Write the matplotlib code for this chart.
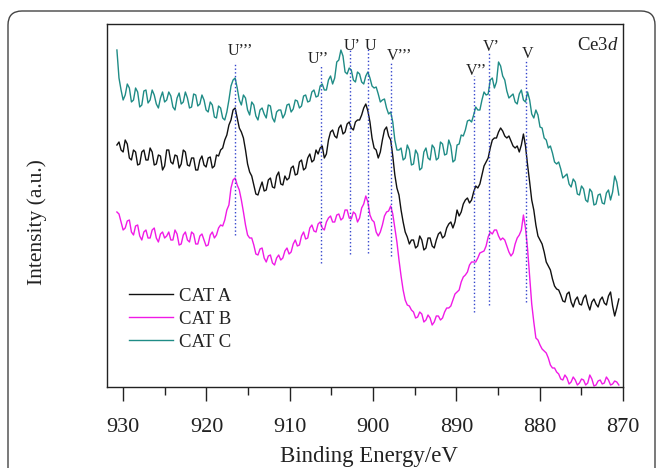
import numpy as np
import matplotlib
matplotlib.use("Agg")
import matplotlib.pyplot as plt
from matplotlib.patches import FancyBboxPatch
from matplotlib.ticker import MultipleLocator
from matplotlib.transforms import IdentityTransform

plt.rcParams["font.family"] = ["Liberation Serif", "DejaVu Serif"]
plt.rcParams["mathtext.fontset"] = "custom"
plt.rcParams["mathtext.rm"] = "Liberation Serif"
plt.rcParams["mathtext.it"] = "Liberation Serif:italic"

# ── data (binding energy grid, intensity a.u.) ──
energy = np.linspace(930.75, 870.5, 243)

cat_a = [
    255, 258, 250, 248, 260, 256, 242, 240, 250, 248, 235, 236, 248, 250, 240, 240, 252, 248, 235, 236,
    245, 244, 230, 234, 250, 250, 238, 236, 245, 244, 232, 236, 250, 248, 235, 234, 242, 242, 230, 230,
    240, 244, 235, 233, 242, 243, 232, 234, 245, 244, 250, 252, 260, 265, 275, 280, 290, 292, 282, 272,
    268, 262, 250, 236, 228, 224, 215, 206, 205, 212, 218, 209, 210, 220, 222, 213, 212, 224, 228, 216,
    215, 224, 220, 222, 232, 234, 225, 226, 238, 240, 230, 232, 242, 246, 238, 240, 250, 246, 252, 254,
    242, 246, 260, 268, 270, 264, 262, 272, 275, 266, 268, 276, 278, 272, 270, 278, 280, 280, 285, 292,
    296, 289, 278, 262, 252, 250, 242, 248, 260, 270, 273, 264, 260, 244, 225, 212, 205, 190, 178, 168,
    163, 156, 160, 160, 152, 154, 164, 160, 150, 152, 162, 162, 154, 152, 160, 166, 168, 162, 164, 172,
    176, 178, 172, 178, 190, 184, 188, 196, 200, 202, 197, 200, 208, 214, 212, 216, 225, 234, 238, 242,
    252, 260, 262, 262, 268, 272, 269, 264, 262, 264, 259, 254, 252, 254, 248, 255, 266, 254, 235, 218,
    200, 190, 175, 164, 160, 156, 148, 138, 134, 130, 121, 114, 111, 110, 105, 99, 98, 106, 108, 98,
    93, 100, 103, 96, 95, 102, 105, 96, 90, 98, 101, 96, 93, 100, 103, 97, 95, 104, 108, 94,
    84, 92, 101,
]

cat_b = [
    188, 186, 178, 170, 172, 179, 180, 168, 165, 174, 175, 164, 160, 168, 170, 162, 162, 170, 172, 162,
    158, 166, 168, 162, 164, 168, 160, 160, 170, 166, 155, 156, 165, 168, 160, 158, 168, 166, 156, 156,
    164, 166, 160, 154, 155, 165, 168, 162, 165, 172, 175, 174, 180, 190, 195, 212, 220, 222, 215, 210,
    200, 188, 175, 165, 162, 162, 155, 146, 145, 151, 152, 142, 138, 144, 145, 137, 135, 142, 145, 140,
    142, 149, 152, 146, 148, 156, 160, 154, 155, 164, 168, 161, 162, 172, 175, 169, 168, 176, 178, 172,
    170, 178, 182, 184, 178, 178, 185, 186, 180, 182, 190, 190, 182, 181, 188, 186, 178, 182, 192, 196,
    204, 198, 185, 180, 178, 168, 164, 168, 175, 184, 188, 189, 194, 186, 172, 158, 140, 124, 110, 100,
    95, 94, 90, 88, 82, 83, 88, 86, 78, 80, 85, 82, 75, 78, 84, 84, 80, 82, 88, 92,
    92, 94, 100, 106, 108, 110, 118, 123, 125, 128, 135, 138, 138, 138, 142, 147, 148, 149, 154, 163,
    168, 166, 170, 170, 164, 160, 162, 160, 154, 148, 144, 147, 156, 162, 165, 170, 185, 172, 151, 124,
    96, 78, 62, 60, 55, 51, 49, 47, 42, 35, 32, 32, 28, 26, 21, 20, 25, 22, 16, 18,
    23, 20, 15, 17, 21, 20, 15, 17, 25, 21, 14, 15, 19, 20, 16, 17, 23, 20, 15, 16,
    19, 18, 15,
]

cat_c = [
    350, 322, 310, 300, 305, 316, 312, 298, 300, 312, 308, 293, 295, 309, 310, 297, 300, 310, 305, 296,
    292, 302, 308, 298, 300, 308, 304, 293, 290, 302, 307, 296, 298, 308, 302, 292, 293, 306, 305, 294,
    296, 305, 300, 290, 288, 298, 295, 283, 282, 294, 292, 282, 280, 288, 300, 314, 320, 322, 312, 300,
    295, 305, 302, 290, 285, 298, 295, 284, 280, 290, 292, 286, 282, 295, 294, 282, 278, 288, 290, 290,
    282, 286, 295, 296, 288, 291, 300, 299, 292, 294, 304, 305, 298, 299, 308, 310, 303, 304, 314, 316,
    310, 310, 320, 324, 316, 322, 338, 340, 350, 344, 328, 326, 332, 330, 320, 318, 328, 326, 318, 316,
    324, 328, 322, 314, 312, 313, 306, 298, 300, 301, 292, 286, 288, 278, 260, 250, 250, 252, 240, 242,
    255, 250, 235, 236, 250, 246, 230, 232, 248, 252, 242, 240, 255, 252, 240, 242, 258, 256, 245, 246,
    260, 254, 238, 240, 255, 256, 265, 264, 270, 279, 280, 278, 285, 293, 290, 290, 300, 308, 305, 306,
    320, 322, 312, 318, 338, 334, 324, 320, 309, 302, 304, 306, 298, 296, 306, 310, 300, 298, 308, 300,
    286, 282, 290, 285, 273, 272, 262, 260, 252, 254, 247, 238, 236, 238, 231, 222, 224, 226, 216, 213,
    221, 218, 206, 205, 214, 211, 200, 198, 211, 208, 195, 196, 205, 206, 197, 196, 207, 210, 200, 208,
    224, 218, 205,
]

series_names = ["CAT A", "CAT B", "CAT C"]
series_colors = ["#111111", "#f01ae6", "#1f8c86"]

# peak assignments (binding energy, eV) and extent of the dotted markers
peak_names = ["U\u2019\u2019\u2019", "U\u2019\u2019", "U\u2019", "U",
              "V\u2019\u2019\u2019", "V\u2019\u2019", "V\u2019", "V"]
peak_pos = [916.6, 906.2, 902.8, 900.6, 897.9, 887.9, 886.1, 881.7]
peak_top = [338, 334, 352, 352, 337, 324, 348, 341]
peak_bottom = [165, 137, 146, 147, 144, 88, 95, 98]
# label anchors (left edge, baseline)
label_x = [917.5, 907.8, 903.5, 901.0, 898.4, 888.9, 886.8, 882.2]
label_y = [345, 337, 350, 350, 340, 325, 349, 342]

fig = plt.figure(figsize=(6.63, 4.68), dpi=100)
ax = fig.add_axes([106.5 / 663, 81 / 468, 516.5 / 663, 363 / 468])

for vals, name, col in zip([cat_a, cat_b, cat_c], series_names, series_colors):
    ax.plot(energy, vals, color=col, lw=1.0, label=name)

ax.vlines(peak_pos, peak_bottom, peak_top, colors="#3344cc", linestyles=":", lw=1.0)
for name, lx, ly in zip(peak_names, label_x, label_y):
    ax.text(lx, ly, name, fontsize=11.5, ha="left", va="baseline", color="#222222")
ax.text(875.5, 349.5, "Ce3$\\it{d}$", fontsize=13.5, ha="left", va="baseline", color="#222222")

ax.set_xlim(932, 870)
ax.set_ylim(13, 376)
ax.set_xticks(range(930, 869, -10))
ax.xaxis.set_minor_locator(MultipleLocator(5))
ax.tick_params(axis="x", which="major", direction="out", length=10, width=1.0,
               labelsize=16, pad=12.5, colors="#222222")
ax.tick_params(axis="x", which="minor", direction="out", length=6, width=1.0, colors="#222222")
ax.set_yticks([])
for sp in ax.spines.values():
    sp.set_linewidth(1.0)
    sp.set_color("#222222")

leg = ax.legend(loc="center left", bbox_to_anchor=(0.044, 0.187), frameon=False,
                fontsize=13.5, handlelength=2.35, handletextpad=0.3,
                labelspacing=0.31, borderpad=0, borderaxespad=0)
for t in leg.get_texts():
    t.set_color("#222222")

fig.text(37 / 663, (468 - 222) / 468, "Intensity (a.u.)", rotation=90,
         ha="center", va="center", fontsize=15.5, color="#222222")
fig.text(368.5 / 663, 6 / 468, "Binding Energy/eV", ha="center", va="baseline",
         fontsize=16.5, color="#222222")

# rounded frame around the whole figure
frame = FancyBboxPatch((8, -20), 647, 477, boxstyle="round,pad=0,rounding_size=14",
                       transform=IdentityTransform(), fill=False,
                       edgecolor="#444444", lw=1.0)
fig.add_artist(frame)

fig.savefig("out.png", dpi=100)
